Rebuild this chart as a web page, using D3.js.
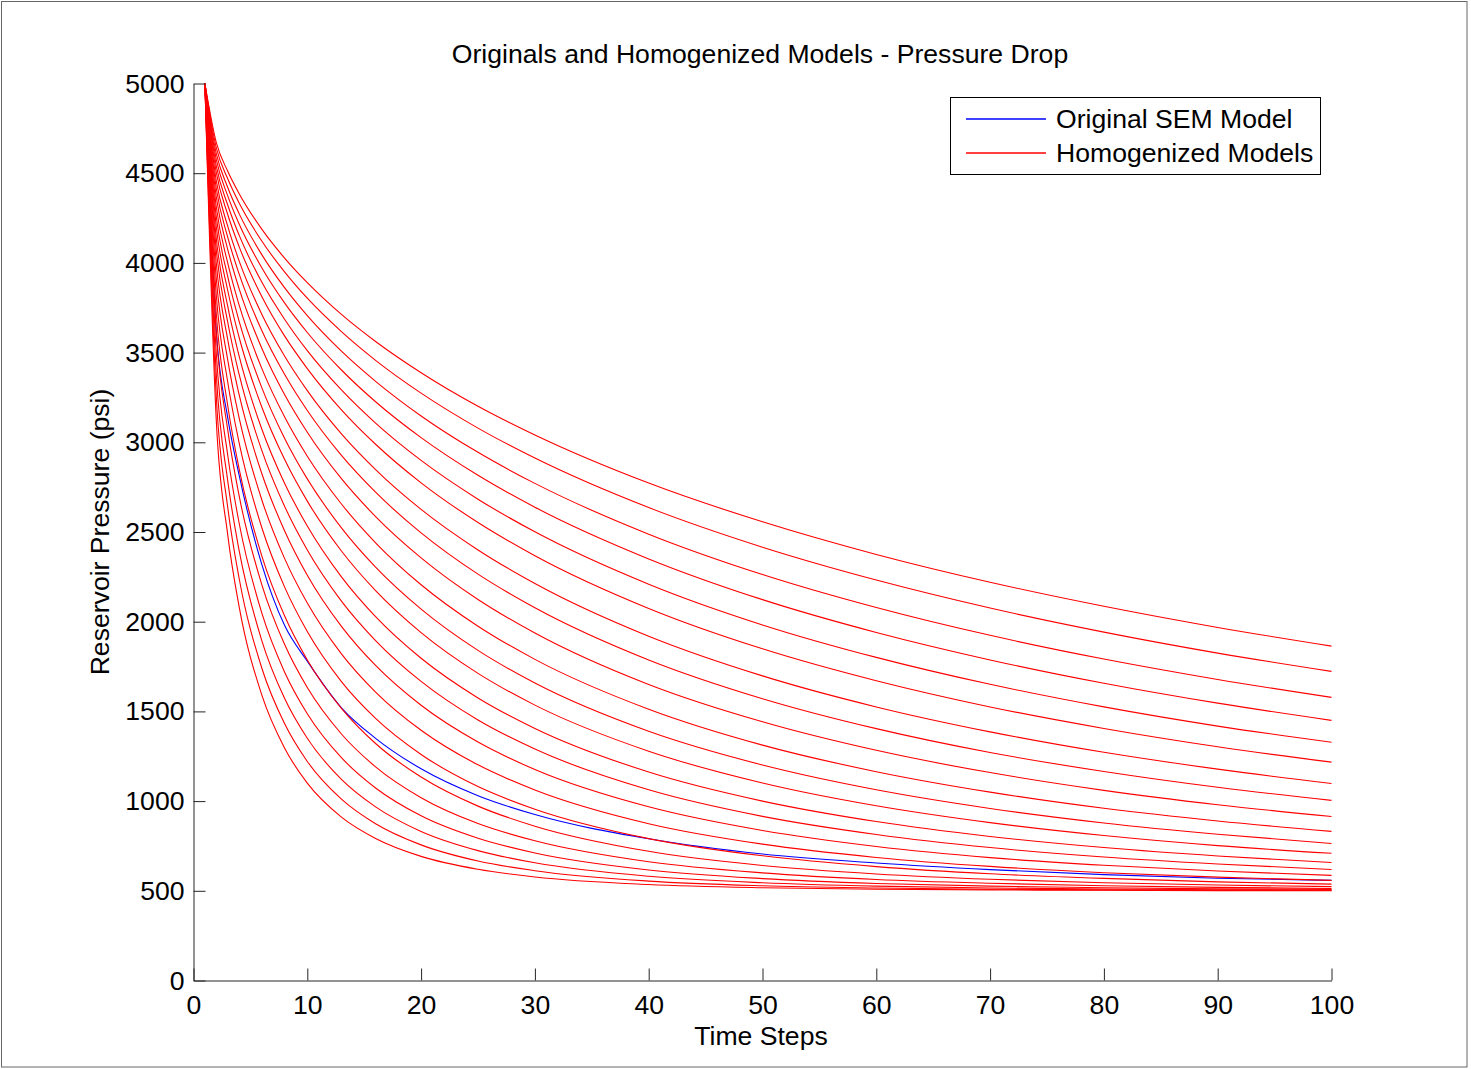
<!DOCTYPE html>
<meta charset="utf-8">
<title>Originals and Homogenized Models - Pressure Drop</title>
<style>

body {
  margin: 0;
  background: #fff;
}

svg {
  display: block;
  font-family: "Liberation Sans", Arial, sans-serif;
  font-size: 26.6px;
}

</style>
<svg width="1471" height="1069"></svg>
<script src="https://d3js.org/d3.v7.min.js"></script>
<script>
var timeSteps = [1, 2, 3, 4, 6, 8, 10, 13, 16, 20, 25, 30, 40, 50, 60, 70, 80, 90, 100];

// original SEM model (blue)
var semModel = [5000, 3620, 3140, 2820, 2320, 1980, 1780, 1520, 1350, 1180, 1030, 925, 790, 705, 655, 618, 590, 570, 558];

// homogenized models (red), top curve first
var homogenized = [
  [5000, 4672, 4512, 4387, 4188, 4027, 3890, 3713, 3562, 3388, 3201, 3041, 2773, 2557, 2375, 2220, 2086, 1968, 1864],
  [5000, 4643, 4470, 4335, 4122, 3950, 3803, 3617, 3457, 3274, 3079, 2912, 2636, 2415, 2232, 2076, 1942, 1825, 1723],
  [5000, 4610, 4422, 4276, 4046, 3862, 3706, 3508, 3340, 3147, 2944, 2771, 2488, 2263, 2079, 1924, 1792, 1678, 1578],
  [5000, 4577, 4375, 4218, 3973, 3777, 3612, 3403, 3226, 3026, 2816, 2638, 2350, 2123, 1940, 1787, 1657, 1546, 1450],
  [5000, 4541, 4324, 4156, 3893, 3686, 3511, 3292, 3107, 2899, 2683, 2501, 2209, 1982, 1801, 1651, 1525, 1418, 1328],
  [5000, 4505, 4271, 4092, 3813, 3593, 3411, 3181, 2989, 2774, 2553, 2368, 2074, 1849, 1671, 1525, 1405, 1303, 1217],
  [5000, 4459, 4206, 4013, 3714, 3481, 3288, 3047, 2848, 2626, 2400, 2213, 1919, 1698, 1525, 1386, 1272, 1178, 1098],
  [5000, 4416, 4145, 3940, 3623, 3379, 3177, 2927, 2722, 2495, 2265, 2078, 1787, 1571, 1404, 1271, 1165, 1077, 1004],
  [5000, 4368, 4077, 3858, 3524, 3266, 3056, 2797, 2586, 2356, 2124, 1937, 1650, 1442, 1283, 1159, 1060, 980, 914],
  [5000, 4313, 4001, 3767, 3412, 3142, 2922, 2656, 2440, 2206, 1975, 1790, 1512, 1312, 1164, 1050, 960, 889, 831],
  [5000, 4259, 3926, 3677, 3305, 3023, 2796, 2523, 2304, 2070, 1840, 1658, 1389, 1201, 1063, 959, 878, 815, 764],
  [5000, 4203, 3849, 3587, 3197, 2905, 2672, 2394, 2173, 1939, 1712, 1535, 1278, 1101, 974, 880, 808, 752, 709],
  [5000, 4138, 3760, 3483, 3074, 2772, 2533, 2250, 2028, 1796, 1575, 1405, 1162, 1000, 886, 803, 741, 694, 658],
  [5000, 4073, 3672, 3381, 2955, 2644, 2400, 2115, 1895, 1667, 1452, 1290, 1063, 915, 814, 741, 688, 649, 619],
  [5000, 4000, 3575, 3268, 2826, 2507, 2259, 1974, 1756, 1534, 1329, 1176, 968, 836, 747, 685, 642, 610, 586],
  [5000, 3915, 3462, 3139, 2680, 2353, 2104, 1821, 1608, 1395, 1202, 1062, 874, 760, 686, 636, 601, 576, 558],
  [5000, 3821, 3339, 3000, 2525, 2194, 1945, 1666, 1461, 1260, 1081, 955, 791, 695, 635, 595, 569, 550, 537],
  [5000, 3719, 3208, 2855, 2367, 2033, 1787, 1517, 1321, 1134, 972, 860, 720, 641, 594, 564, 545, 532, 523],
  [5000, 3611, 3072, 2705, 2207, 1874, 1633, 1374, 1191, 1019, 875, 779, 662, 600, 563, 542, 528, 519, 513],
  [5000, 3498, 2932, 2553, 2049, 1720, 1487, 1242, 1073, 918, 793, 711, 616, 568, 541, 526, 517, 511, 508],
  [5000, 3381, 2789, 2400, 1895, 1573, 1350, 1121, 968, 831, 724, 656, 581, 545, 526, 516, 510, 506, 504],
  [5000, 3257, 2641, 2245, 1742, 1432, 1221, 1011, 874, 756, 666, 612, 554, 528, 516, 509, 505, 503, 502],
  [5000, 3125, 2488, 2087, 1592, 1296, 1100, 911, 792, 692, 620, 577, 535, 517, 509, 505, 503, 501, 501]
];

var xTicks = [0, 10, 20, 30, 40, 50, 60, 70, 80, 90, 100];
var yTicks = [0, 500, 1000, 1500, 2000, 2500, 3000, 3500, 4000, 4500, 5000];
var legendLabels = ["Original SEM Model", "Homogenized Models"];
var legendColors = ["rgb(0,0,255)", "rgb(255,0,0)"];

var svg = d3.select("svg");

// figure frame
svg.append("rect")
    .attr("x", 1.5)
    .attr("y", 1.5)
    .attr("width", 1465.5)
    .attr("height", 1065.5)
    .attr("fill", "none")
    .attr("stroke", "#666");

var x = d3.scaleLinear()
    .domain([0, 100])
    .range([193.5, 1331.5]);

var y = d3.scaleLinear()
    .domain([0, 5000])
    .range([980.5, 83.5]);

var line = d3.line()
    .x(function(d, i) { return x(timeSteps[i]); })
    .y(function(d) { return y(d); })
    .curve(d3.curveMonotoneX);

// blue goes first so the red curves sit on top of it
svg.append("path")
    .datum(semModel)
    .attr("d", line)
    .attr("fill", "none")
    .attr("stroke", legendColors[0])
    .attr("stroke-width", 1.1);

svg.append("g")
  .selectAll("path")
  .data(homogenized)
  .enter().append("path")
    .attr("d", line)
    .attr("fill", "none")
    .attr("stroke", legendColors[1])
    .attr("stroke-width", 1.1);

// axes, ticks point inwards like matlab
svg.append("g")
    .attr("class", "axis")
    .attr("transform", "translate(0,980.5)")
    .call(d3.axisBottom(x).tickValues(xTicks).tickFormat(d3.format("d"))
      .tickSizeInner(-12).tickSizeOuter(0).tickPadding(15));

svg.append("g")
    .attr("class", "axis")
    .attr("transform", "translate(193.5,0)")
    .call(d3.axisLeft(y).tickValues(yTicks).tickFormat(d3.format("d"))
      .tickSizeInner(-12).tickSizeOuter(0).tickPadding(9));

svg.selectAll(".axis .domain, .axis .tick line")
    .attr("stroke", "#262626")
    .attr("stroke-width", 1);

svg.selectAll(".axis .tick text")
    .attr("fill", "#000");

svg.selectAll(".axis")
    .attr("font-size", null)
    .attr("font-family", null);

// title and axis labels
svg.append("text")
    .attr("x", 760)
    .attr("y", 63)
    .attr("text-anchor", "middle")
    .text("Originals and Homogenized Models - Pressure Drop");

svg.append("text")
    .attr("x", 761)
    .attr("y", 1045)
    .attr("text-anchor", "middle")
    .text("Time Steps");

svg.append("text")
    .attr("transform", "translate(109,532) rotate(-90)")
    .attr("text-anchor", "middle")
    .text("Reservoir Pressure (psi)");

// legend
var legend = svg.append("g");

legend.append("rect")
    .attr("x", 950.5)
    .attr("y", 97.5)
    .attr("width", 370)
    .attr("height", 77)
    .attr("fill", "#fff")
    .attr("stroke", "#000");

legend.selectAll("line")
  .data(legendColors)
  .enter().append("line")
    .attr("x1", 966)
    .attr("x2", 1046)
    .attr("y1", function(d, i) { return 119 + i * 34; })
    .attr("y2", function(d, i) { return 119 + i * 34; })
    .style("stroke", function(d) { return d; })
    .style("stroke-width", "1.6px");

legend.selectAll("text")
  .data(legendLabels)
  .enter().append("text")
    .attr("x", 1056)
    .attr("y", function(d, i) { return 128 + i * 34; })
    .text(function(d) { return d; });

</script>
